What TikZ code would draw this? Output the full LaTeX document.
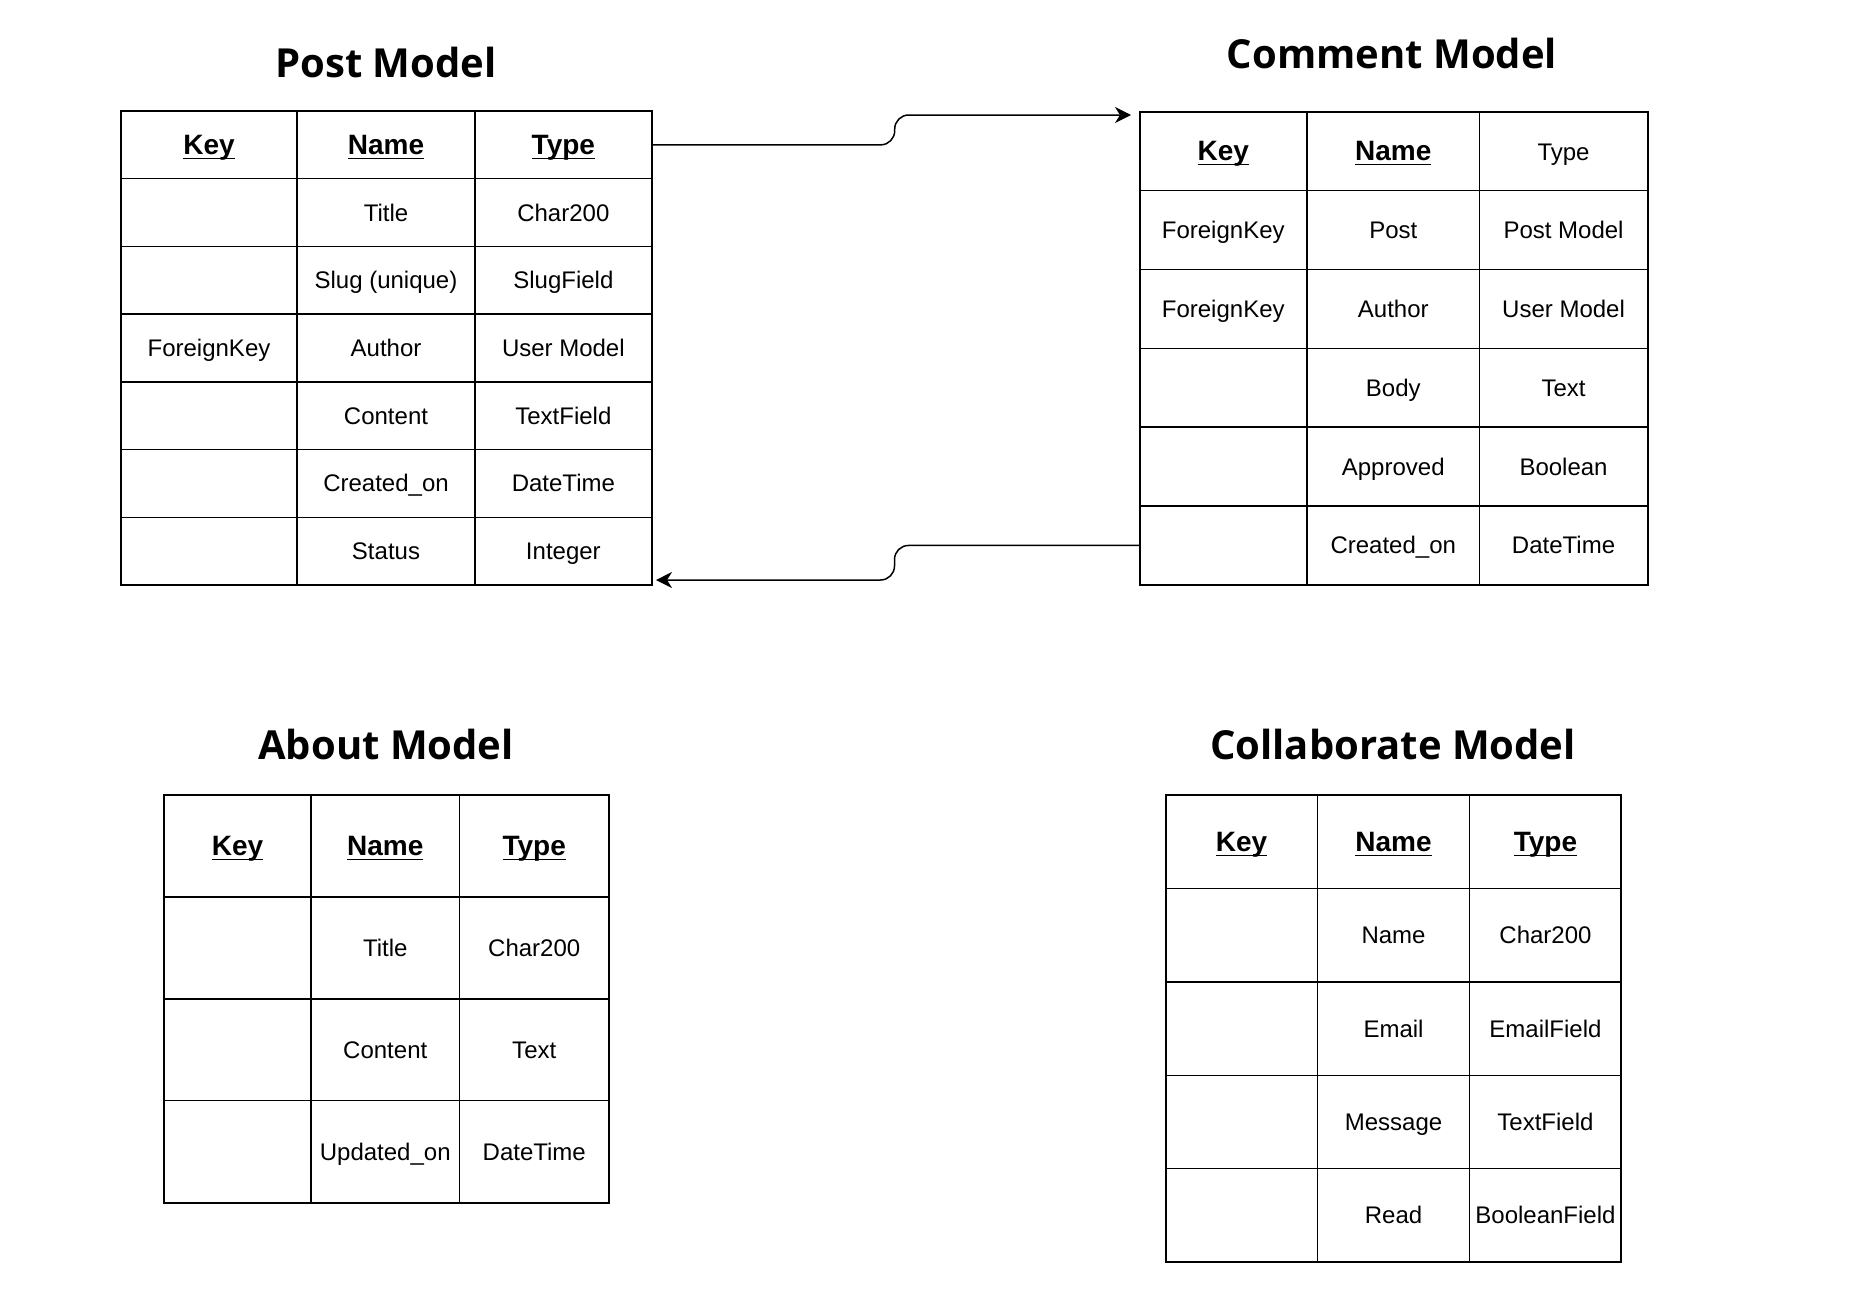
\documentclass[tikz,border=0pt]{standalone}
\usepackage{fontspec}
\setmainfont{Liberation Sans}
\newfontfamily\titlefont{Open Sans}
\usetikzlibrary{arrows.meta}
\newcommand\hdr[1]{{\fontsize{28}{32}\selectfont\bfseries\setbox0\hbox{#1}\rlap{\rule[-4.5pt]{\wd0}{1.8pt}}\box0}}
\begin{document}
\begin{tikzpicture}[x=1pt,y=-1pt,
  cell/.style={draw, line width=1.4pt, rectangle, inner sep=0pt, outer sep=0pt, anchor=north west, font=\fontsize{24}{28}\selectfont, align=center},
  rs/.code={\ifnum#1=0 \pgfkeysalso{text height=25pt,text depth=5pt}\else\pgfkeysalso{text height=22pt,text depth=5pt}\fi},
  border/.style={draw, line width=2pt},
  ttl/.style={font=\titlefont\bfseries\fontsize{40}{48}\selectfont, anchor=base, inner sep=0pt},
  conn/.style={line width=1.5pt, rounded corners=14pt, -{Stealth[length=16pt,width=16pt,inset=5pt]}}]
\fill[white] (0,0) rectangle (1861,1294);
\useasboundingbox (0,0) rectangle (1861,1294);

% ---------- Post Model ----------
\node[ttl] (posttitle) at (386,77.6) {Post Model};
\foreach \r/\a/\b/\c in {0/\hdr{Key}/\hdr{Name}/\hdr{Type},
  1//Title/Char200, 2//Slug (unique)/SlugField, 3/ForeignKey/Author/User Model,
  4//Content/TextField, 5//Created\_on/DateTime, 6//Status/Integer}{
  \node[cell, rs=\r, minimum width=176pt, minimum height=67.7pt] (post-\r-0) at (121,{111+67.7*\r}) {\a};
  \node[cell, rs=\r, minimum width=178pt, minimum height=67.7pt] (post-\r-1) at (297,{111+67.7*\r}) {\b};
  \node[cell, rs=\r, minimum width=176.7pt, minimum height=67.7pt] (post-\r-2) at (475,{111+67.7*\r}) {\c};
}
\draw[border] (post-0-0.north west) rectangle (post-6-2.south east);

% ---------- Comment Model ----------
\node[ttl] (commtitle) at (1392,68.2) {Comment Model};
\foreach \r/\a/\b/\c in {0/\hdr{Key}/\hdr{Name}/Type,
  1/ForeignKey/Post/Post Model, 2/ForeignKey/Author/User Model,
  3//Body/Text, 4//Approved/Boolean, 5//Created\_on/DateTime}{
  \node[cell, rs=\r, minimum width=167.5pt, minimum height=78.9pt] (comm-\r-0) at (1139.5,{111.5+78.9*\r}) {\a};
  \node[cell, rs=\r, minimum width=172.5pt, minimum height=78.9pt] (comm-\r-1) at (1307,{111.5+78.9*\r}) {\b};
  \node[cell, rs=\r, minimum width=168.1pt, minimum height=78.9pt] (comm-\r-2) at (1479.5,{111.5+78.9*\r}) {\c};
}
\draw[border] (comm-0-0.north west) rectangle (comm-5-2.south east);

% ---------- About Model ----------
\node[ttl] (abouttitle) at (386,759.6) {About Model};
\foreach \r/\a/\b/\c in {0/\hdr{Key}/\hdr{Name}/\hdr{Type},
  1//Title/Char200, 2//Content/Text, 3//Updated\_on/DateTime}{
  \node[cell, rs=\r, minimum width=147pt, minimum height=101.9pt] (about-\r-0) at (164,{795+101.9*\r}) {\a};
  \node[cell, rs=\r, minimum width=148.5pt, minimum height=101.9pt] (about-\r-1) at (311,{795+101.9*\r}) {\b};
  \node[cell, rs=\r, minimum width=149.5pt, minimum height=101.9pt] (about-\r-2) at (459.5,{795+101.9*\r}) {\c};
}
\draw[border] (about-0-0.north west) rectangle (about-3-2.south east);

% ---------- Collaborate Model ----------
\node[ttl] (colltitle) at (1393,759.6) {Collaborate Model};
\foreach \r/\a/\b/\c in {0/\hdr{Key}/\hdr{Name}/\hdr{Type},
  1//Name/Char200, 2//Email/EmailField, 3//Message/TextField, 4//Read/BooleanField}{
  \node[cell, rs=\r, minimum width=152pt, minimum height=93.3pt] (coll-\r-0) at (1165.6,{795.3+93.3*\r}) {\a};
  \node[cell, rs=\r, minimum width=151.9pt, minimum height=93.3pt] (coll-\r-1) at (1317.6,{795.3+93.3*\r}) {\b};
  \node[cell, rs=\r, minimum width=151.9pt, minimum height=93.3pt] (coll-\r-2) at (1469.5,{795.3+93.3*\r}) {\c};
}
\draw[border] (coll-0-0.north west) rectangle (coll-4-2.south east);

% ---------- connectors ----------
\coordinate (ctip) at (1131,115);
\coordinate (ptip) at (656,580);
\draw[conn] (post-0-2.east) -- ++(243,0) |- (ctip);
\draw[conn] (comm-5-0.west) -- ++(-245,0) |- (ptip);
\end{tikzpicture}
\end{document}
